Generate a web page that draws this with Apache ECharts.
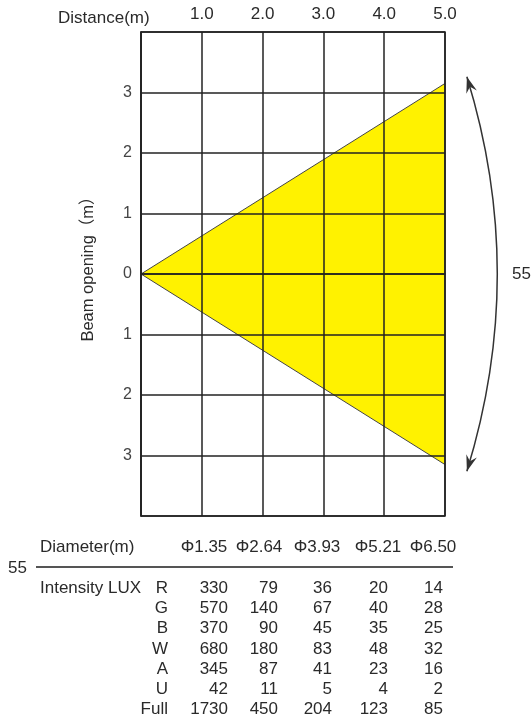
<!DOCTYPE html>
<html>
<head>
<meta charset="utf-8">
<script src="https://cdn.jsdelivr.net/npm/echarts@6/dist/echarts.min.js"></script>
<style>
  html, body { margin: 0; padding: 0; background: #fff; }
  #main { width: 532px; height: 725px; }
</style>
</head>
<body>
<div id="main"></div>
<script>
// 光束边缘 (距离m, 半宽m)
var beamUpper = [[0, 0], [5, 3.15]];
var beamLower = [[0, 0], [5, -3.15]];
var beamAngle = '55';

// 表格数据
var diameters = ['Φ1.35', 'Φ2.64', 'Φ3.93', 'Φ5.21', 'Φ6.50'];
var channels = ['R', 'G', 'B', 'W', 'A', 'U', 'Full'];
var luxR = [330, 79, 36, 20, 14];
var luxG = [570, 140, 67, 40, 28];
var luxB = [370, 90, 45, 35, 25];
var luxW = [680, 180, 83, 48, 32];
var luxA = [345, 87, 41, 23, 16];
var luxU = [42, 11, 5, 4, 2];
var luxFull = [1730, 450, 204, 123, 85];
var luxRows = [luxR, luxG, luxB, luxW, luxA, luxU, luxFull];

var FONT = '"Liberation Sans", Arial, sans-serif';
var TXT = '#2a2a2a';
var FS = 17;

function chart1() {
  var myChart = echarts.init(document.getElementById('main'));
  var option = {
    animation: false,
    title: {
      text: 'Distance(m)',
      left: 53,
      top: 5,
      textStyle: { fontFamily: FONT, fontSize: FS, fontWeight: 'normal', color: TXT }
    },
    grid: {
      left: 141, right: 87, top: 32, bottom: 209,
      show: true, borderColor: '#222', borderWidth: 1.5, z: 3
    },
    xAxis: {
      type: 'value',
      position: 'top',
      min: 0, max: 5, interval: 1,
      z: 3,
      axisLine: { show: true, lineStyle: { color: '#222', width: 1.5 } },
      axisTick: { show: false },
      splitLine: { show: true, lineStyle: { color: '#222', width: 1.5 } },
      axisLabel: {
        margin: 9,
        fontFamily: FONT, fontSize: FS, color: TXT,
        formatter: function (v) { return v === 0 ? '' : v.toFixed(1); }
      }
    },
    yAxis: {
      type: 'value',
      min: -4, max: 4, interval: 1,
      z: 3,
      axisLine: { show: true, lineStyle: { color: '#222', width: 1.5 } },
      axisTick: { show: false },
      splitLine: { show: true, lineStyle: { color: '#222', width: 1.5 } },
      axisLabel: {
        margin: 9,
        fontFamily: FONT, fontSize: 16, color: '#444',
        formatter: function (v) { return Math.abs(v) === 4 ? '' : String(Math.abs(v)); }
      }
    },
    series: [
      {
        type: 'line', data: beamUpper, symbol: 'none', z: 2,
        lineStyle: { color: '#444', width: 1 },
        areaStyle: { color: '#fff200', opacity: 1 }
      },
      {
        type: 'line', data: beamLower, symbol: 'none', z: 2,
        lineStyle: { color: '#444', width: 1 },
        areaStyle: { color: '#fff200', opacity: 1 }
      }
    ]
  };
  myChart.setOption(option);

  var graphics = [];
  // 纵轴名称
  graphics.push({
    type: 'text', x: 88, y: 265, rotation: Math.PI / 2,
    style: {
      text: 'Beam opening（m）', font: '16.5px ' + FONT + ', "Noto Sans CJK SC"',
      fill: TXT, align: 'center', verticalAlign: 'middle'
    }
  });

  // 角度弧线
  var p0 = myChart.convertToPixel({ gridIndex: 0 }, [5.36, 3.26]);
  var p2 = myChart.convertToPixel({ gridIndex: 0 }, [5.36, -3.26]);
  var mid = myChart.convertToPixel({ gridIndex: 0 }, [5.86, 0]);
  var c = [2 * mid[0] - (p0[0] + p2[0]) / 2, mid[1]];
  graphics.push({
    type: 'bezierCurve',
    shape: { x1: p0[0], y1: p0[1], x2: p2[0], y2: p2[1], cpx1: c[0], cpy1: c[1] },
    style: { stroke: '#333', lineWidth: 1.5, fill: null }
  });
  [p0, p2].forEach(function (tip) {
    var dx = tip[0] - c[0], dy = tip[1] - c[1];
    var len = Math.sqrt(dx * dx + dy * dy);
    dx /= len; dy /= len;
    var nx = -dy, ny = dx, L = 16, w = 5.5;
    graphics.push({
      type: 'polygon',
      shape: { points: [
        [tip[0], tip[1]],
        [tip[0] - dx * L + nx * w, tip[1] - dy * L + ny * w],
        [tip[0] - dx * L * 0.65, tip[1] - dy * L * 0.65],
        [tip[0] - dx * L - nx * w, tip[1] - dy * L - ny * w]
      ] },
      style: { fill: '#333' }
    });
  });
  graphics.push({
    type: 'text', x: 512, y: mid[1],
    style: { text: beamAngle, font: FS + 'px ' + FONT, fill: TXT, verticalAlign: 'middle' }
  });

  // 表格
  var colCenter = [204, 259, 317, 378, 433];
  var colRight = [228, 278, 332, 388, 443];
  graphics.push({
    type: 'text', x: 40, y: 547,
    style: { text: 'Diameter(m)', font: FS + 'px ' + FONT, fill: TXT, verticalAlign: 'middle' }
  });
  diameters.forEach(function (d, i) {
    graphics.push({
      type: 'text', x: colCenter[i], y: 547,
      style: { text: d, font: FS + 'px ' + FONT, fill: TXT, align: 'center', verticalAlign: 'middle' }
    });
  });
  graphics.push({
    type: 'text', x: 8, y: 568,
    style: { text: beamAngle, font: FS + 'px ' + FONT, fill: TXT, verticalAlign: 'middle' }
  });
  graphics.push({
    type: 'line',
    shape: { x1: 36, y1: 567, x2: 453, y2: 567 },
    style: { stroke: '#555', lineWidth: 2 }
  });
  graphics.push({
    type: 'text', x: 40, y: 588,
    style: { text: 'Intensity LUX', font: FS + 'px ' + FONT, fill: TXT, verticalAlign: 'middle' }
  });
  channels.forEach(function (ch, r) {
    var y = 588 + r * 20.3;
    graphics.push({
      type: 'text', x: 168, y: y,
      style: { text: ch, font: FS + 'px ' + FONT, fill: TXT, align: 'right', verticalAlign: 'middle' }
    });
    luxRows[r].forEach(function (v, i) {
      graphics.push({
        type: 'text', x: colRight[i], y: y,
        style: { text: String(v), font: FS + 'px ' + FONT, fill: TXT, align: 'right', verticalAlign: 'middle' }
      });
    });
  });

  myChart.setOption({ graphic: graphics });
}

window.onload = function () {
  chart1();
};
</script>
</body>
</html>
